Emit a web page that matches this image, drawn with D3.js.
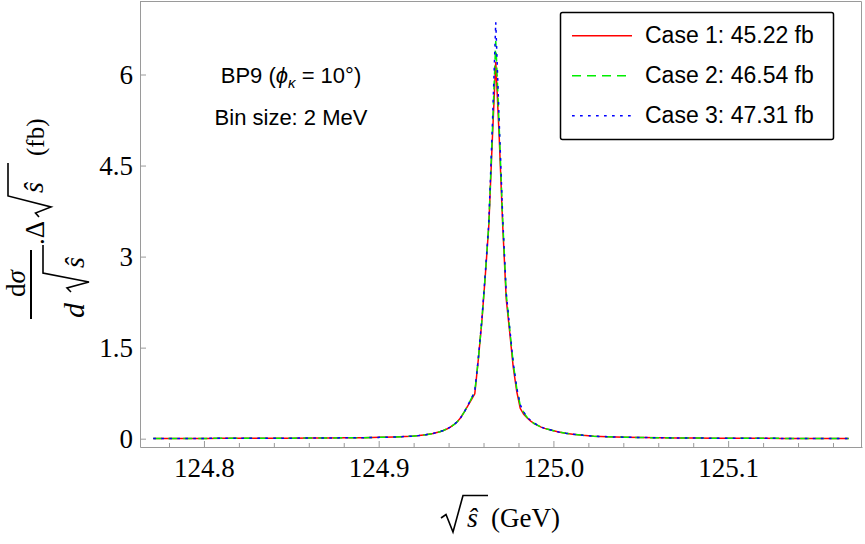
<!DOCTYPE html>
<html>
<head>
<meta charset="utf-8">
<script src="https://cdn.jsdelivr.net/npm/d3@7"></script>
<style>
  body { margin: 0; background: #fff; }
  svg { display: block; }
</style>
</head>
<body>
<script>
// ************** Data ****************************************
const binCentres = [
  124.771, 124.781, 124.791, 124.801, 124.811, 124.821, 124.831, 124.841, 124.851, 124.861,
  124.871, 124.881, 124.891, 124.901, 124.909, 124.915, 124.919, 124.923, 124.927, 124.931,
  124.935, 124.937, 124.939, 124.941, 124.943, 124.945, 124.947, 124.949, 124.951, 124.953,
  124.955, 124.957, 124.959, 124.961, 124.963, 124.965, 124.967, 124.969, 124.971, 124.973,
  124.975, 124.977, 124.979, 124.981, 124.983, 124.985, 124.987, 124.989, 124.991, 124.993,
  124.995, 124.999, 125.003, 125.007, 125.011, 125.017, 125.023, 125.031, 125.041, 125.051,
  125.061, 125.071, 125.081, 125.091, 125.101, 125.111, 125.121, 125.131, 125.141, 125.151,
  125.161, 125.169
];

const case1 = [
  0.004, 0.004, 0.005, 0.005, 0.006, 0.006, 0.007, 0.008, 0.009, 0.010,
  0.012, 0.014, 0.017, 0.022, 0.028, 0.035, 0.042, 0.052, 0.066, 0.085,
  0.115, 0.135, 0.16, 0.19, 0.23, 0.28, 0.35, 0.44, 0.54, 0.64,
  0.74, 1.30, 1.92, 2.68, 3.50, 4.90, 6.21, 4.95, 3.50, 2.30,
  1.75, 1.18, 0.78, 0.50, 0.40, 0.34, 0.29, 0.25, 0.22, 0.19,
  0.17, 0.14, 0.11, 0.09, 0.075, 0.055, 0.042, 0.032, 0.024, 0.019,
  0.015, 0.012, 0.010, 0.009, 0.008, 0.007, 0.006, 0.005, 0.005, 0.004,
  0.004, 0.004
];

const case2 = [
  0.004, 0.004, 0.005, 0.005, 0.006, 0.006, 0.007, 0.008, 0.009, 0.010,
  0.012, 0.014, 0.017, 0.022, 0.028, 0.035, 0.042, 0.052, 0.066, 0.085,
  0.115, 0.135, 0.16, 0.19, 0.23, 0.28, 0.35, 0.44, 0.55, 0.66,
  0.77, 1.30, 1.93, 2.70, 3.52, 5.00, 6.55, 5.10, 3.58, 2.38,
  1.80, 1.24, 0.83, 0.55, 0.43, 0.35, 0.29, 0.25, 0.22, 0.19,
  0.17, 0.14, 0.11, 0.09, 0.075, 0.055, 0.042, 0.032, 0.024, 0.019,
  0.015, 0.012, 0.010, 0.009, 0.008, 0.007, 0.006, 0.005, 0.005, 0.004,
  0.004, 0.004
];

const case3 = [
  0.004, 0.004, 0.005, 0.005, 0.006, 0.006, 0.007, 0.008, 0.009, 0.010,
  0.012, 0.014, 0.017, 0.022, 0.028, 0.035, 0.042, 0.052, 0.066, 0.085,
  0.115, 0.135, 0.16, 0.19, 0.23, 0.28, 0.35, 0.44, 0.55, 0.66,
  0.78, 1.32, 1.95, 2.72, 3.55, 5.10, 6.86, 5.20, 3.62, 2.40,
  1.82, 1.25, 0.84, 0.56, 0.44, 0.35, 0.30, 0.26, 0.22, 0.19,
  0.17, 0.14, 0.11, 0.09, 0.075, 0.055, 0.042, 0.032, 0.024, 0.019,
  0.015, 0.012, 0.010, 0.009, 0.008, 0.007, 0.006, 0.005, 0.005, 0.004,
  0.004, 0.004
];

const seriesNames = ["Case 1: 45.22 fb", "Case 2: 46.54 fb", "Case 3: 47.31 fb"];
const seriesColors = ["#ff0000", "#00ee00", "#0000ff"];
const seriesDash = [null, "9,6", "2.7,5.3"];

const xMajor = [124.8, 124.9, 125.0, 125.1];
const xMinor = [124.78, 124.82, 124.84, 124.86, 124.88, 124.92, 124.94, 124.96, 124.98,
                125.02, 125.04, 125.06, 125.08, 125.12, 125.14, 125.16];
const yMajor = [0, 1.5, 3, 4.5, 6];

// ************** Setup *****************
let width = 865;
let height = 544;
let plotLeft = 140, plotRight = 862, plotTop = 1, plotBottom = 447;
const serif = "'Liberation Serif', 'DejaVu Serif', serif";
const sans = "'Liberation Sans', Arial, sans-serif";
const gray = "#9a9a9a";

let svg = d3.select("body").append("svg")
  .attr("width", width)
  .attr("height", height);

let x = d3.scaleLinear().domain([124.7634, 125.1766]).range([plotLeft, plotRight]);
let y = d3.scaleLinear().domain([-0.137, 7.211]).range([plotBottom, plotTop]);

// frame (top and right)
svg.append("path")
  .attr("d", `M${plotLeft},${plotTop + 0.5}H${plotRight - 0.5}V${plotBottom}`)
  .attr("fill", "none")
  .attr("stroke", gray)
  .attr("stroke-width", 1);

// x axis, minor ticks first
svg.append("g")
  .attr("transform", `translate(0,${plotBottom})`)
  .call(d3.axisBottom(x).tickValues(xMinor).tickSize(-4).tickSizeOuter(0).tickFormat(""))
  .call(g => g.select(".domain").remove())
  .call(g => g.selectAll("line").attr("stroke", gray));

svg.append("g")
  .attr("transform", `translate(0,${plotBottom})`)
  .call(d3.axisBottom(x).tickValues(xMajor).tickSize(-6).tickSizeOuter(0)
    .tickPadding(10.5).tickFormat(d3.format(".1f")))
  .call(g => g.select(".domain").attr("stroke", gray))
  .call(g => g.selectAll("line").attr("stroke", gray))
  .call(g => g.selectAll("text").attr("font-family", serif).attr("font-size", 27).attr("fill", "#000"));

svg.append("g")
  .attr("transform", `translate(${plotLeft},0)`)
  .call(d3.axisLeft(y).tickValues(yMajor).tickSize(-6).tickSizeOuter(0).tickPadding(7)
    .tickFormat(d => String(d)))
  .call(g => g.select(".domain").attr("stroke", gray))
  .call(g => g.selectAll("line").attr("stroke", gray))
  .call(g => g.selectAll("text").attr("font-family", serif).attr("font-size", 27).attr("fill", "#000"));

// ************** Curves *****************
let line = d3.line()
  .x((d, i) => x(binCentres[i]))
  .y(d => y(d));

[case1, case2, case3].forEach((vals, i) => {
  svg.append("path")
    .datum(vals)
    .attr("d", line)
    .attr("fill", "none")
    .attr("stroke", seriesColors[i])
    .attr("stroke-width", 1.5)
    .attr("stroke-dasharray", seriesDash[i]);
});

// ************** Annotations *****************
let note = svg.append("text")
  .attr("x", 291).attr("y", 83)
  .attr("text-anchor", "middle")
  .attr("font-family", sans).attr("font-size", 22);
note.append("tspan").text("BP9 (");
note.append("tspan").attr("font-style", "italic").text("ϕ");
note.append("tspan").attr("font-style", "italic").attr("font-size", 15).attr("dy", 5).text("κ");
note.append("tspan").attr("dy", -5).text(" = 10°)");

svg.append("text")
  .attr("x", 291).attr("y", 125)
  .attr("text-anchor", "middle")
  .attr("font-family", sans).attr("font-size", 22)
  .text("Bin size: 2 MeV");

// ************** Legend *****************
let legend = svg.append("g");
legend.append("rect")
  .attr("x", 560.5).attr("y", 12.5)
  .attr("width", 273).attr("height", 127)
  .attr("rx", 2)
  .attr("fill", "#fff")
  .attr("stroke", "#000")
  .attr("stroke-width", 1.5);

seriesNames.forEach((name, i) => {
  let ly = 35.7 + i * 40;
  legend.append("line")
    .attr("x1", 572).attr("x2", 632)
    .attr("y1", ly).attr("y2", ly)
    .attr("stroke", seriesColors[i])
    .attr("stroke-width", 1.4)
    .attr("stroke-dasharray", seriesDash[i]);
  legend.append("text")
    .attr("x", 645).attr("y", ly + 7)
    .attr("font-family", sans).attr("font-size", 23)
    .text(name);
});

// ************** Axis titles *****************
// x title: sqrt(s-hat) (GeV)
svg.append("path")
  .attr("d", "M441,518 L446,514.5 L453,532 L463,495.5 L488,495.5")
  .attr("fill", "none").attr("stroke", "#000").attr("stroke-width", 1.6);
svg.append("text")
  .attr("x", 467).attr("y", 527)
  .attr("font-family", serif).attr("font-size", 28).attr("font-style", "italic")
  .text("ŝ");
svg.append("text")
  .attr("x", 491).attr("y", 527)
  .attr("font-family", serif).attr("font-size", 27)
  .text("(GeV)");

// y title, drawn in a rotated frame: local (u, v) -> screen (v + 3, 330 - u)
let yt = svg.append("g")
  .attr("transform", "translate(3,330) rotate(-90)")
  .attr("font-family", serif);

let num = yt.append("text")
  .attr("x", 46.5).attr("y", 22)
  .attr("text-anchor", "middle").attr("font-size", 27);
num.append("tspan").text("d");
num.append("tspan").attr("font-style", "italic").text("σ");

yt.append("line")
  .attr("x1", 11).attr("x2", 80)
  .attr("y1", 28).attr("y2", 28)
  .attr("stroke", "#000").attr("stroke-width", 2);

yt.append("text")
  .attr("x", 12).attr("y", 81)
  .attr("font-size", 30).attr("font-style", "italic")
  .text("d");
yt.append("path")
  .attr("d", "M38,68 L42,64 L48,86 L57,40 L85,40")
  .attr("fill", "none").attr("stroke", "#000").attr("stroke-width", 1.6);
yt.append("text")
  .attr("x", 62).attr("y", 81)
  .attr("font-size", 28).attr("font-style", "italic")
  .text("ŝ");

yt.append("text")
  .attr("x", 85).attr("y", 41)
  .attr("font-size", 27)
  .text(".Δ");
yt.append("path")
  .attr("d", "M113,36 L117,32.5 L123,48 L134,5 L167,5")
  .attr("fill", "none").attr("stroke", "#000").attr("stroke-width", 1.6);
yt.append("text")
  .attr("x", 137).attr("y", 40)
  .attr("font-size", 28).attr("font-style", "italic")
  .text("ŝ");
yt.append("text")
  .attr("x", 174).attr("y", 41)
  .attr("font-size", 25)
  .text("(fb)");
</script>
</body>
</html>
